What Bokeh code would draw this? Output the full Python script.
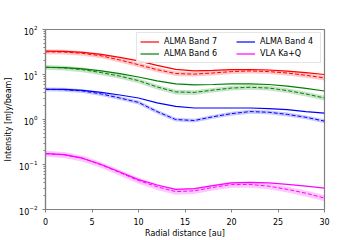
from bokeh.plotting import figure
from bokeh.models import Range1d, FixedTicker, LogTicker, Legend, LegendItem
from bokeh.embed import file_html
from bokeh.resources import INLINE

# ---- data ----
radius = [0, 2, 4, 6, 8, 10, 12, 14, 16, 18, 20, 22, 24, 26, 28, 30]

band7_obs = [33, 32.5, 31, 28, 24, 20, 16, 13, 12, 12.3, 12.8, 12.9, 12.6, 11.9, 11.0, 10.0]
band7_mod = [32, 31.5, 29.5, 26, 21, 16.5, 12.8, 10.5, 10.2, 10.8, 11.6, 12.0, 11.6, 10.8, 9.6, 8.4]

band6_obs = [14.5, 14.2, 13.3, 12.0, 10.5, 8.8, 7.2, 6.2, 5.9, 6.0, 6.2, 6.2, 6.0, 5.5, 4.9, 4.3]
band6_mod = [14.5, 14.0, 12.8, 11.0, 9.2, 7.3, 5.3, 4.1, 4.0, 4.5, 5.0, 5.2, 5.0, 4.4, 3.7, 3.0]

band4_obs = [4.7, 4.65, 4.45, 4.0, 3.5, 3.0, 2.35, 1.95, 1.8, 1.8, 1.8, 1.8, 1.75, 1.65, 1.5, 1.38]
band4_mod = [4.7, 4.6, 4.3, 3.7, 3.0, 2.4, 1.5, 1.0, 0.95, 1.15, 1.35, 1.5, 1.45, 1.3, 1.12, 0.92]

vla_obs = [0.175, 0.166, 0.138, 0.10, 0.068, 0.046, 0.035, 0.028, 0.029, 0.034, 0.039, 0.040, 0.039, 0.036, 0.033, 0.030]
vla_mod = [0.175, 0.165, 0.136, 0.098, 0.066, 0.044, 0.032, 0.025, 0.026, 0.031, 0.036, 0.036, 0.033, 0.028, 0.023, 0.018]

band_rel_err = [0.12, 0.12, 0.10, 0.15]

series_names = ["ALMA Band 7", "ALMA Band 6", "ALMA Band 4", "VLA Ka+Q"]
series_colors = ["#ff0000", "#008000", "#0000ff", "#ff00ff"]
x_ticks = [0, 5, 10, 15, 20, 25, 30]

obs = [band7_obs, band6_obs, band4_obs, vla_obs]
mod = [band7_mod, band6_mod, band4_mod, vla_mod]

FONT = "DejaVu Sans"
GRAY = "#808080"

W, H = 356, 240
p = figure(width=W, height=H, y_axis_type="log",
           x_range=Range1d(0, 30), y_range=Range1d(1e-2, 1e2),
           output_backend="svg", toolbar_location=None,
           min_border_left=45, min_border_right=W - 324,
           min_border_top=29, min_border_bottom=H - 209)
p.grid.visible = False
p.outline_line_color = GRAY
p.outline_line_width = 1.2
p.background_fill_color = "white"
p.border_fill_color = "white"

p.xaxis.ticker = FixedTicker(ticks=x_ticks, minor_ticks=[])
p.yaxis.ticker = LogTicker(num_minor_ticks=10)

for ax in (p.xaxis[0], p.yaxis[0]):
    ax.axis_line_color = GRAY
    ax.axis_line_width = 1.2
    ax.major_tick_line_color = GRAY
    ax.minor_tick_line_color = GRAY
    ax.major_tick_in = 0
    ax.major_tick_out = 3
    ax.minor_tick_in = 0
    ax.minor_tick_out = 2
    ax.major_label_text_font = FONT
    ax.major_label_text_font_size = "8px"
    ax.major_label_text_color = "black"
    ax.axis_label_text_font = FONT
    ax.axis_label_text_font_size = "8px"
    ax.axis_label_text_font_style = "normal"
    ax.axis_label_text_color = "black"

p.xaxis.major_label_standoff = 5
p.xaxis.axis_label_standoff = 1
p.yaxis.major_label_standoff = 5
p.yaxis.axis_label_standoff = 3

p.xaxis.axis_label = "Radial distance [au]"
p.yaxis.axis_label = "Intensity [mJy/beam]"

renderers = []
for o, m, c, e in zip(obs, mod, series_colors, band_rel_err):
    lo = [v * (1 - e) for v in m]
    hi = [v * (1 + e) for v in m]
    p.varea(x=radius, y1=lo, y2=hi, fill_color=c, fill_alpha=0.22)
    p.line(radius, m, line_color=c, line_width=1, line_dash="4 2")
    r = p.line(radius, o, line_color=c, line_width=1.2)
    renderers.append(r)

def make_legend(items, label_width, border):
    lg = Legend(items=items, location="top_right", margin=3, padding=3,
                spacing=1, glyph_width=19, glyph_height=11,
                label_height=11, label_standoff=5, label_width=label_width,
                label_text_font=FONT, label_text_font_size="8px",
                label_text_color="black")
    lg.border_line_width = 1
    if border:
        lg.border_line_color = "#cccccc"
        lg.background_fill_color = "white"
        lg.background_fill_alpha = 0.85
    else:
        # keep the border "on" (so padding is kept) but practically invisible
        lg.border_line_color = "white"
        lg.border_line_alpha = 0.01
        lg.background_fill_alpha = 0
    return lg

legA = make_legend([LegendItem(label=series_names[i], renderers=[renderers[i]]) for i in (0, 1)], 153, True)
legB = make_legend([LegendItem(label=series_names[i], renderers=[renderers[i]]) for i in (2, 3)], 57, False)
p.add_layout(legA)
p.add_layout(legB)

open("out.html", "w").write(file_html(p, INLINE))
